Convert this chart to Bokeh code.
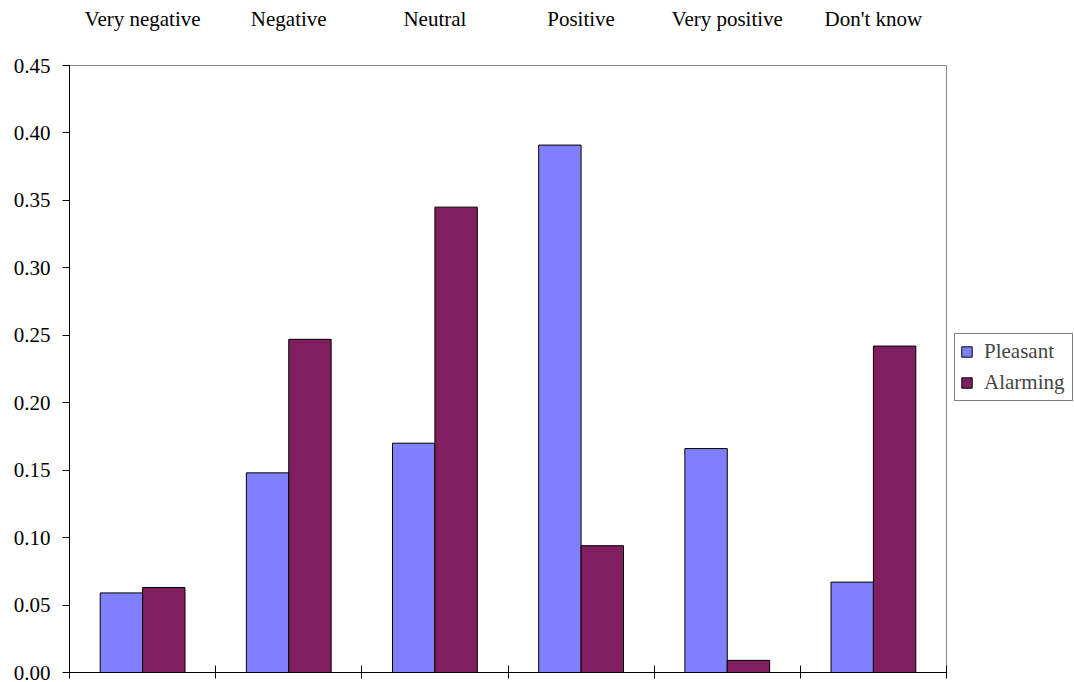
from bokeh.plotting import figure
from bokeh.models import (ColumnDataSource, Range1d, LinearAxis,
                          FixedTicker, Legend, LegendItem, NumeralTickFormatter)
from bokeh.embed import file_html
from bokeh.resources import INLINE

categories = ["Very negative", "Negative", "Neutral", "Positive", "Very positive", "Don't know"]
pleasant = [0.059, 0.148, 0.170, 0.391, 0.166, 0.067]
alarming = [0.063, 0.247, 0.345, 0.094, 0.009, 0.242]
y_ticks = [0.00, 0.05, 0.10, 0.15, 0.20, 0.25, 0.30, 0.35, 0.40, 0.45]
series_names = ["Pleasant", "Alarming"]
series_colors = ["#8080FF", "#7F1F5F"]

FONT = "Liberation Serif"
FS = "21px"
BAR_W = 0.29

n = len(categories)
centers = [i + 0.5 for i in range(n)]
boundaries = list(range(n + 1))

src = ColumnDataSource(dict(
    xp=[c - BAR_W / 2 for c in centers],
    xa=[c + BAR_W / 2 for c in centers],
    pleasant=pleasant, alarming=alarming))

p = figure(x_range=Range1d(0, n), y_range=Range1d(0, 0.45),
           frame_width=877, frame_height=607, output_backend="svg", toolbar_location=None,
           x_axis_location=None, y_axis_location="left",
           min_border_left=69, min_border_right=128, min_border_top=65, min_border_bottom=10)
p.background_fill_color = "white"
p.border_fill_color = "white"
p.outline_line_color = "#888888"
p.xgrid.visible = False
p.ygrid.visible = False

r1 = p.vbar(x="xp", top="pleasant", width=BAR_W, source=src,
            fill_color=series_colors[0], line_color="black", line_width=1)
r2 = p.vbar(x="xa", top="alarming", width=BAR_W, source=src,
            fill_color=series_colors[1], line_color="black", line_width=1)

# y axis
ya = p.yaxis[0]
ya.ticker = FixedTicker(ticks=y_ticks)
ya.formatter = NumeralTickFormatter(format="0.00")
ya.major_label_text_font = FONT
ya.major_label_text_font_size = FS
ya.major_label_text_color = "black"
ya.major_tick_in = 0
ya.major_tick_out = 7
ya.minor_tick_line_color = None
ya.major_label_standoff = 12
ya.axis_line_color = "black"
ya.major_tick_line_color = "black"

# top category labels
top = LinearAxis(ticker=FixedTicker(ticks=centers),
                 major_label_overrides={c: lab for c, lab in zip(centers, categories)},
                 axis_line_color=None, major_tick_line_color=None,
                 minor_tick_line_color=None, major_label_standoff=29,
                 major_label_text_font=FONT, major_label_text_font_size=FS,
                 major_label_text_color="black")
p.add_layout(top, "above")

# bottom axis with ticks at category boundaries
bot = LinearAxis(ticker=FixedTicker(ticks=boundaries),
                 major_label_overrides={b: "" for b in boundaries},
                 major_tick_in=7, major_tick_out=6, minor_tick_line_color=None,
                 major_label_text_font_size="1px", major_label_standoff=0,
                 axis_line_color="black", major_tick_line_color="black")
p.add_layout(bot, "below")

legend = Legend(items=[LegendItem(label=series_names[0], renderers=[r1]),
                       LegendItem(label=series_names[1], renderers=[r2])],
                location=(8, 271), orientation="vertical",
                border_line_color="black", border_line_width=1,
                background_fill_color="white", background_fill_alpha=1,
                label_text_font=FONT, label_text_font_size=FS,
                glyph_width=13, glyph_height=13, label_standoff=11,
                padding=5, spacing=6, margin=0, label_height=22, label_width=83)
p.add_layout(legend, "right")

open("out.html", "w").write(file_html(p, INLINE))
